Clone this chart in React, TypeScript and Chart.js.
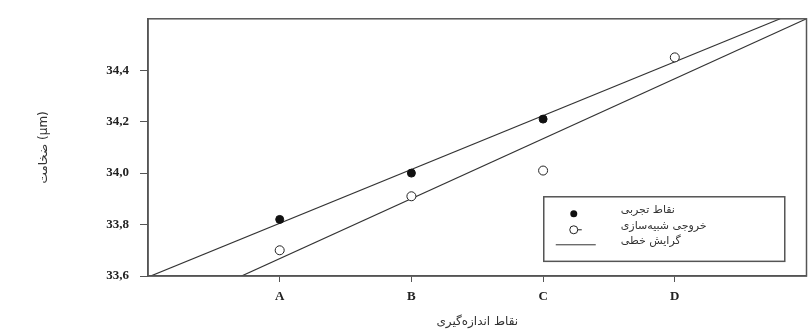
import React, { useEffect, useRef } from 'react';
import { Chart, registerables } from 'chart.js';

Chart.register(...registerables);

// ---- data ----
const categories = ['A', 'B', 'C', 'D'];
const categoryPositions = [1, 2, 3, 4];
const measuredX = [1, 2, 3];
const measuredValues = [33.82, 34.0, 34.21];
const simulatedX = [1, 2, 3, 4];
const simulatedValues = [33.7, 33.91, 34.01, 34.45];
const upperFitX = [0.02, 4.8];
const upperFitY = [33.6, 34.6];
const lowerFitX = [0.71, 5];
const lowerFitY = [33.6, 34.6];
const yTickValues = [33.6, 33.8, 34.0, 34.2, 34.4];
const yTickLabels = ['33,6', '33,8', '34,0', '34,2', '34,4'];
const legendLabels = ['نقاط تجربی', 'خروجی شبیه‌سازی', 'گرایش خطی'];
const xTitle = 'نقاط اندازه‌گیری';
const yTitle = 'ضخامت (µm)';

const toPoints = (xs: number[], ys: number[]) => xs.map((x, i) => ({ x, y: ys[i] }));

const framePlugin = {
  id: 'frame',
  afterDraw(chart: any) {
    const { ctx, chartArea } = chart;
    ctx.save();
    ctx.strokeStyle = '#555';
    ctx.lineWidth = 1.5;
    ctx.strokeRect(chartArea.left, chartArea.top, chartArea.right - chartArea.left, chartArea.bottom - chartArea.top);
    ctx.restore();
  },
};

const legendPlugin = {
  id: 'boxLegend',
  afterDraw(chart: any) {
    const { ctx, chartArea } = chart;
    const w = chartArea.right - chartArea.left;
    const h = chartArea.bottom - chartArea.top;
    const bx = chartArea.left + w * 0.601;
    const by = chartArea.top + h * 0.692;
    const bw = w * 0.366;
    const bh = h * 0.251;
    ctx.save();
    ctx.fillStyle = '#fff';
    ctx.fillRect(bx, by, bw, bh);
    ctx.strokeStyle = '#555';
    ctx.lineWidth = 1.5;
    ctx.strokeRect(bx, by, bw, bh);
    const mx = bx + 30;
    const tx = bx + 77;
    const rows = [by + 17, by + 33, by + 48];
    ctx.fillStyle = '#111';
    ctx.beginPath();
    ctx.arc(mx, rows[0], 3.5, 0, Math.PI * 2);
    ctx.fill();
    ctx.strokeStyle = '#222';
    ctx.lineWidth = 1;
    ctx.fillStyle = '#fff';
    ctx.beginPath();
    ctx.arc(mx, rows[1], 4, 0, Math.PI * 2);
    ctx.fill();
    ctx.stroke();
    ctx.beginPath();
    ctx.moveTo(mx + 4, rows[1]);
    ctx.lineTo(mx + 8, rows[1]);
    ctx.stroke();
    ctx.strokeStyle = '#333';
    ctx.beginPath();
    ctx.moveTo(bx + 12, rows[2]);
    ctx.lineTo(bx + 52, rows[2]);
    ctx.stroke();
    ctx.fillStyle = '#333';
    ctx.font = '11px "DejaVu Sans", sans-serif';
    ctx.textAlign = 'left';
    ctx.textBaseline = 'middle';
    legendLabels.forEach((t, i) => ctx.fillText(t, tx, rows[i] - 4));
    ctx.restore();
  },
};

export default function App() {
  const ref = useRef<HTMLCanvasElement>(null);
  useEffect(() => {
    if (!ref.current) return;
    const chart = new Chart(ref.current, {
      type: 'scatter',
      data: {
        datasets: [
          {
            label: legendLabels[0],
            data: toPoints(measuredX, measuredValues),
            pointRadius: 4,
            pointBackgroundColor: '#111',
            pointBorderColor: '#111',
            pointBorderWidth: 1,
            showLine: false,
          },
          {
            label: legendLabels[1],
            data: toPoints(simulatedX, simulatedValues),
            pointRadius: 4.5,
            pointBackgroundColor: '#fff',
            pointBorderColor: '#222',
            pointBorderWidth: 1,
            showLine: false,
          },
          {
            label: legendLabels[2],
            data: toPoints(upperFitX, upperFitY),
            showLine: true,
            pointRadius: 0,
            borderColor: '#333',
            borderWidth: 1.2,
          },
          {
            label: legendLabels[2] + ' 2',
            data: toPoints(lowerFitX, lowerFitY),
            showLine: true,
            pointRadius: 0,
            borderColor: '#333',
            borderWidth: 1.2,
          },
        ],
      },
      options: {
        animation: false,
        responsive: false,
        maintainAspectRatio: false,
        layout: { padding: { left: 0, top: 13, right: 5, bottom: 0 } },
        plugins: { legend: { display: false }, tooltip: { enabled: false } },
        scales: {
          x: {
            type: 'linear',
            min: 0,
            max: 5,
            afterBuildTicks: (scale: any) => {
              scale.ticks = categoryPositions.map((v) => ({ value: v }));
            },
            afterFit: (scale: any) => {
              scale.height = 55;
            },
            ticks: {
              callback: (v: any) => categories[categoryPositions.indexOf(Number(v))],
              font: { family: '"Liberation Serif", serif', size: 13, weight: 'bold' },
              color: '#222',
              padding: 7,
              maxRotation: 0,
              autoSkip: false,
            },
            grid: { display: true, drawOnChartArea: false, tickLength: 6, color: '#555' },
            border: { display: true, color: '#555', width: 1.5 },
            title: {
              display: true,
              text: xTitle,
              font: { family: '"DejaVu Sans", sans-serif', size: 12 },
              color: '#333',
              padding: { top: 0, bottom: 2 },
            },
          },
          y: {
            type: 'linear',
            min: 33.6,
            max: 34.6,
            afterBuildTicks: (scale: any) => {
              scale.ticks = yTickValues.map((v) => ({ value: v }));
            },
            afterFit: (scale: any) => {
              scale.width = 148;
            },
            ticks: {
              callback: (_v: any, i: number) => yTickLabels[i],
              font: { family: '"Liberation Serif", serif', size: 13, weight: 'bold' },
              color: '#222',
              padding: 11,
              autoSkip: false,
            },
            grid: { display: true, drawOnChartArea: false, tickLength: 8, color: '#555' },
            border: { display: true, color: '#555', width: 1.5 },
            title: {
              display: true,
              text: yTitle,
              font: { family: '"DejaVu Sans", sans-serif', size: 12 },
              color: '#333',
              padding: { top: 37, bottom: 0 },
            },
          },
        },
      },
      plugins: [framePlugin, legendPlugin],
    } as any);
    return () => chart.destroy();
  }, []);
  return (
    <div style={{ position: 'fixed', left: 0, top: 0, width: 812, height: 331, background: '#fff' }}>
      <canvas ref={ref} width={812} height={331} style={{ display: 'block' }} />
    </div>
  );
}
